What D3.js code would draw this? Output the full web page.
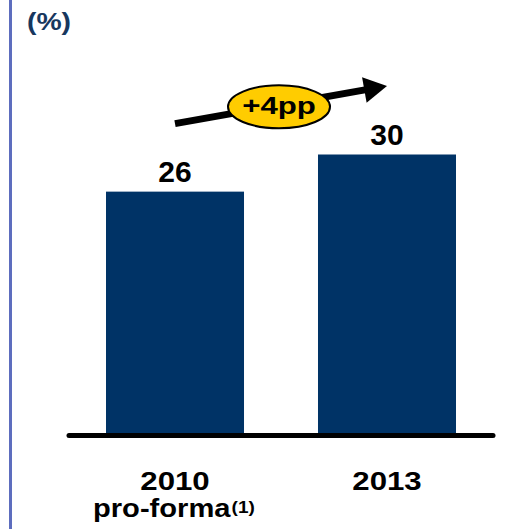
<!DOCTYPE html>
<html>
<head>
<meta charset="utf-8">
<script src="https://cdn.jsdelivr.net/npm/d3@7"></script>
<style>
  html, body { margin: 0; padding: 0; background: #ffffff; }
  svg { display: block; }
  text { font-family: "Liberation Sans", Arial, sans-serif; font-weight: bold; }
</style>
</head>
<body>
<script>
const categories = ["2010", "2013"];
const subLabels = ["pro-forma", ""];
const footnoteMarks = ["(1)", ""];
const values = [26, 30];
const changeLabel = "+4pp";
const unitLabel = "(%)";

const W = 530, H = 529;
const svg = d3.select("body").append("svg").attr("width", W).attr("height", H);

// left border
svg.append("line").attr("x1", 10.5).attr("x2", 10.5).attr("y1", 0).attr("y2", H)
  .attr("stroke", "#5d6dbe").attr("stroke-width", 3);

svg.append("text").attr("transform", "translate(27,30) scale(1.18,1)")
  .attr("font-size", 24).attr("fill", "#17375e").text(unitLabel);

const x = d3.scaleBand().domain(categories).range([67, 495])
  .paddingInner(0.349).paddingOuter(0.184);
const y = d3.scaleLinear().domain([0, 30]).range([433, 154.5]);
const cx = c => x(c) + x.bandwidth() / 2;

svg.selectAll("rect.bar").data(values).join("rect").attr("class", "bar")
  .attr("x", (d, i) => x(categories[i]))
  .attr("y", d => y(d))
  .attr("width", x.bandwidth())
  .attr("height", d => y(0) - y(d))
  .attr("fill", "#003366");

svg.selectAll("text.val").data(values).join("text").attr("class", "val")
  .attr("x", (d, i) => cx(categories[i]))
  .attr("y", d => y(d) - 10)
  .attr("text-anchor", "middle").attr("font-size", 30).attr("fill", "#000")
  .text(d => d);

// baseline
svg.append("line").attr("x1", 69).attr("x2", 493).attr("y1", y(0) + 2.5).attr("y2", y(0) + 2.5)
  .attr("stroke", "#000").attr("stroke-width", 5).attr("stroke-linecap", "round");

// category labels
svg.selectAll("text.cat").data(categories).join("text").attr("class", "cat")
  .attr("transform", d => `translate(${cx(d)},490) scale(1.2,1)`)
  .attr("text-anchor", "middle").attr("font-size", 26).attr("fill", "#000")
  .text(d => d);

categories.forEach((c, i) => {
  if (!subLabels[i]) return;
  const sub = svg.append("text")
    .attr("transform", `translate(${x(c) - 13},517) scale(1.12,1)`)
    .attr("font-size", 26).attr("fill", "#000");
  sub.append("tspan").text(subLabels[i]);
  sub.append("tspan").attr("font-size", 17).attr("dy", -4).attr("dx", 1).text(footnoteMarks[i]);
});

// arrow (change annotation) anchored on bar tops
const ax0 = cx(categories[0]), ay0 = y(values[0]) - 68;
const ax1 = cx(categories[1]), ay1 = y(values[1]) - 68.5;
const ang = Math.atan2(ay1 - ay0, ax1 - ax0);
const headL = 23, headW = 13;
const bx = ax1 - headL * Math.cos(ang), by = ay1 - headL * Math.sin(ang);
svg.append("line").attr("x1", ax0).attr("y1", ay0).attr("x2", bx + 2 * Math.cos(ang)).attr("y2", by + 2 * Math.sin(ang))
  .attr("stroke", "#000").attr("stroke-width", 7);
const px = -Math.sin(ang), py = Math.cos(ang);
svg.append("path")
  .attr("d", `M${ax1},${ay1} L${bx + headW * px},${by + headW * py} L${bx - headW * px},${by - headW * py} Z`)
  .attr("fill", "#000");

const mx = (ax0 + ax1) / 2 - 2, my = (ay0 + ay1) / 2 + 2;
svg.append("ellipse").attr("cx", mx).attr("cy", my).attr("rx", 51).attr("ry", 21.5)
  .attr("fill", "#ffcc00").attr("stroke", "#000").attr("stroke-width", 2);
svg.append("text").attr("transform", `translate(${mx},${my + 7}) scale(1.3,1)`)
  .attr("text-anchor", "middle").attr("font-size", 24).attr("fill", "#000").text(changeLabel);
</script>
</body>
</html>
